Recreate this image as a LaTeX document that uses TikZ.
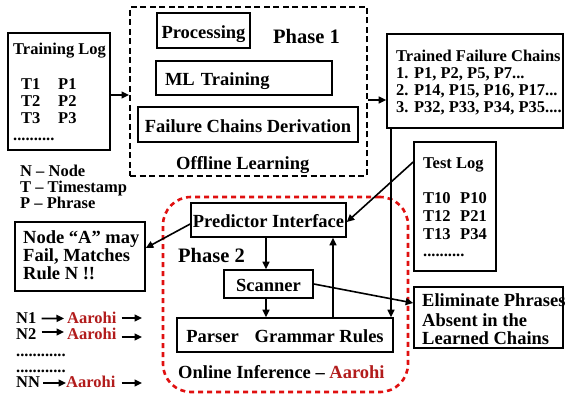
\documentclass[tikz,border=0pt]{standalone}
\usepackage{fontspec}
\setmainfont{Liberation Serif}
\usetikzlibrary{arrows.meta}
\definecolor{aarohired}{RGB}{178,28,28}
\definecolor{dashred}{RGB}{224,16,16}
\newcommand{\smallfs}{\fontsize{16.5pt}{17pt}\selectfont\bfseries}
\newcommand{\boxfs}{\fontsize{18.5pt}{18pt}\selectfont\bfseries}
\newcommand{\phasefs}{\fontsize{20.5pt}{24pt}\selectfont\bfseries}
\tikzset{
  box/.style={draw, line width=1.6pt, rectangle, inner sep=0pt, font=\boxfs,
    text height=15.5pt, text depth=0pt},
  frame/.style={draw, line width=1.6pt, rectangle, inner sep=0pt},
  phaseone/.style={draw, line width=2pt, dash pattern=on 6pt off 3.5pt, rectangle, inner sep=0pt},
  phasetwo/.style={draw=dashred, line width=2.6pt, dash pattern=on 5pt off 4pt,
    rounded corners=28pt, rectangle, inner sep=0pt},
  sm/.style={inner sep=0pt, anchor=base west, font=\smallfs},
  bt/.style={inner sep=0pt, anchor=base west, font=\boxfs},
  ph/.style={inner sep=0pt, anchor=base west, font=\phasefs},
  conn/.style={line width=1.6pt, -{Triangle[length=7.5pt,width=7pt]}},
  plain/.style={line width=1.6pt},
}
\begin{document}
\begin{tikzpicture}[x=1pt,y=-1pt]
\useasboundingbox (0,0) rectangle (565,395);

% ---------- Phase 1: offline learning ----------
\node[phaseone, minimum width=237pt, minimum height=169pt] (p1) at (248.5,91.5) {};
\node[box, minimum width=93pt, minimum height=35pt] (proc) at (203.5,30.5) {Processing};
\node[ph] (ph1) at (273,44) {Phase 1};
\node[box, minimum width=176pt, minimum height=34pt, text width=158pt, align=left,
      inner xsep=9pt] (ml) at (244,78) {ML Training};
\node[box, minimum width=220pt, minimum height=35pt] (fcd) at (248,124.5) {Failure Chains Derivation};
\node[bt] (offl) at (176,170) {Offline Learning};

% ---------- training log ----------
\node[frame, minimum width=102pt, minimum height=117pt] (train) at (59,91.5) {};
\node[sm] (trt) at (13,55) {Training Log};
\node[sm] (tt1) at (21,90) {T1};
\node[sm] (tp1) at (58,90) {P1};
\node[sm] (tt2) at (21,107) {T2};
\node[sm] (tp2) at (58,107) {P2};
\node[sm] (tt3) at (21,124) {T3};
\node[sm] (tp3) at (58,124) {P3};
\node[sm] (tdots) at (13,141) {..........};

% ---------- legend ----------
\node[sm] (lgn) at (20,177) {N -- Node};
\node[sm] (lgt) at (20,193) {T -- Timestamp};
\node[sm] (lgp) at (20,209) {P -- Phrase};

% ---------- trained failure chains ----------
\node[frame, minimum width=176pt, minimum height=94pt] (chains) at (475,81) {};
\node[sm] (ch0) at (396,62) {Trained Failure Chains};
\node[sm] (ch1) at (396,79) {1. P1, P2, P5, P7...};
\node[sm] (ch2) at (396,96) {2. P14, P15, P16, P17...};
\node[sm] (ch3) at (396,113) {3. P32, P33, P34, P35....};

% ---------- test log ----------
\node[frame, minimum width=82pt, minimum height=129pt] (test) at (455,206.5) {};
\node[sm] (tst) at (423,169) {Test Log};
\node[sm] (st1) at (423,204) {T10};
\node[sm] (sp1) at (460,204) {P10};
\node[sm] (st2) at (423,222) {T12};
\node[sm] (sp2) at (460,222) {P21};
\node[sm] (st3) at (423,240) {T13};
\node[sm] (sp3) at (460,240) {P34};
\node[sm] (sdots) at (423,257) {..........};

% ---------- Phase 2: online inference ----------
\node[phasetwo, minimum width=245pt, minimum height=195pt] (p2) at (285.5,294.5) {};
\node[box, minimum width=155pt, minimum height=34pt] (pred) at (268.5,220) {Predictor Interface};
\node[ph] (ph2) at (178,263) {Phase 2};
\node[box, minimum width=89pt, minimum height=28pt] (scan) at (268.5,284) {Scanner};
\node[box, minimum width=216pt, minimum height=34pt] (parser) at (285,335) {Parser\hspace{16pt}Grammar Rules};
\node[bt] (onl) at (178,378) {Online Inference -- \textcolor{aarohired}{Aarohi}};

% ---------- outputs ----------
\node[frame, minimum width=130pt, minimum height=69pt] (alert) at (80,256.5) {};
\node[bt] (al1) at (23,244) {Node “A” may};
\node[bt] (al2) at (23,262) {Fail, Matches};
\node[bt] (al3) at (23,280) {Rule N !!};

\node[frame, minimum width=149pt, minimum height=61pt] (elim) at (488.5,317.5) {};
\node[bt] (el1) at (422,307) {Eliminate Phrases};
\node[bt] (el2) at (422,326.5) {Absent in the};
\node[bt] (el3) at (422,344.5) {Learned Chains};

% ---------- per-node instances ----------
\node[sm] (n1) at (16,324) {N1};
\node[sm, text=aarohired] (a1) at (67,324) {Aarohi};
\coordinate (e1) at (142,318);
\node[sm] (n2) at (16,340) {N2};
\node[sm, text=aarohired] (a2) at (67,340) {Aarohi};
\coordinate (e2) at (142,337);
\node[sm] (ndots1) at (16,356) {............};
\node[sm] (ndots2) at (16,372) {............};
\node[sm] (nn) at (16,387) {NN};
\node[sm, text=aarohired] (an) at (66,387) {Aarohi};
\coordinate (en) at (142,383);

% ---------- connectors ----------
\draw[conn] (train.east |- 0,95) -- (p1.west |- 0,95);
\draw[conn] (p1.east |- 0,100) -- (chains.west |- 0,100);
\draw[conn] (chains.south -| 391,0) -- (parser.north -| 391,0);
\draw[conn] (test.west |- 0,162) -- (pred.east |- 0,222);
\draw[conn] (pred.west |- 0,224) -- (alert.east |- 0,248);
\draw[conn] (pred.south -| 266,0) -- (scan.north -| 266,0);
\draw[conn] (scan.south -| 266,0) -- (parser.north -| 266,0);
\draw[conn] (parser.north -| 333,0) -- (pred.south -| 333,0);
\draw[conn] (scan.east |- 0,284) -- (elim.west |- 0,303);

\draw[conn, shorten <=5pt, shorten >=3pt] (n1) -- (a1);
\draw[conn, shorten <=5pt] (a1.east |- e1) -- (e1);
\draw[conn, shorten <=5pt, shorten >=3pt] (n2.east |- 0,332) -- (a2.west |- 0,332);
\draw[conn, shorten <=5pt] (a2.east |- e2) -- (e2);
\draw[conn, shorten <=3pt] (nn.east |- 0,383) -- (an.west |- 0,383);
\draw[conn, shorten <=6pt] (an.east |- en) -- (en);
\end{tikzpicture}
\end{document}
